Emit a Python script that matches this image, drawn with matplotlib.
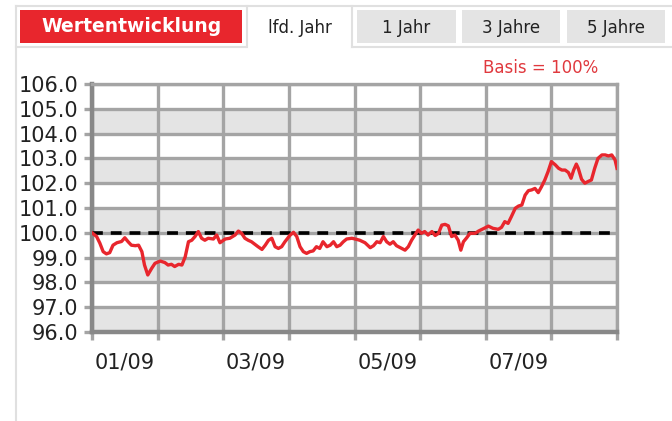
import matplotlib
matplotlib.use("Agg")
import matplotlib.pyplot as plt
from matplotlib.patches import Rectangle
from matplotlib.lines import Line2D

plt.rcParams["font.family"] = ["DejaVu Sans"]

# Wertentwicklung, lfd. Jahr (Basis = 100%)
# x: Position in Monaten ab 01.01. (0 = Jan, 8 = Ende Aug)
months = [
    0.00, 0.07, 0.12, 0.17, 0.22, 0.27, 0.32, 0.38, 0.45, 0.50, 0.55, 0.60,
    0.66, 0.71, 0.76, 0.80, 0.85, 0.91, 0.96, 1.04, 1.11, 1.16, 1.21, 1.26,
    1.32, 1.37, 1.42, 1.47, 1.52, 1.57, 1.62, 1.67, 1.72, 1.77, 1.85, 1.90,
    1.95, 2.03, 2.10, 2.18, 2.23, 2.28, 2.33, 2.38, 2.43, 2.48, 2.53, 2.59,
    2.64, 2.69, 2.74, 2.79, 2.84, 2.89, 2.94, 3.02, 3.07, 3.12, 3.17, 3.22,
    3.27, 3.32, 3.37, 3.42, 3.47, 3.52, 3.58, 3.63, 3.68, 3.73, 3.78, 3.83,
    3.88, 3.96, 4.01, 4.08, 4.16, 4.24, 4.29, 4.34, 4.39, 4.44, 4.49, 4.54,
    4.59, 4.64, 4.72, 4.77, 4.82, 4.87, 4.92, 4.97, 5.02, 5.07, 5.12, 5.18,
    5.23, 5.28, 5.33, 5.38, 5.43, 5.48, 5.53, 5.58, 5.62, 5.66, 5.71, 5.76,
    5.84, 5.89, 5.99, 6.04, 6.11, 6.19, 6.24, 6.29, 6.34, 6.39, 6.45, 6.50,
    6.55, 6.60, 6.65, 6.70, 6.75, 6.80, 6.85, 6.90, 6.95, 7.00, 7.06, 7.11,
    7.16, 7.21, 7.26, 7.30, 7.34, 7.38, 7.41, 7.46, 7.51, 7.56, 7.61, 7.66,
    7.71, 7.77, 7.82, 7.87, 7.92, 7.97, 8.00,
]
werte = [
    100.0, 99.85, 99.58, 99.24, 99.15, 99.2, 99.5, 99.6, 99.65, 99.8, 99.64, 99.5,
    99.48, 99.5, 99.24, 98.7, 98.3, 98.57, 98.77, 98.86, 98.8, 98.7, 98.73, 98.64,
    98.73, 98.7, 99.03, 99.64, 99.7, 99.85, 100.05, 99.78, 99.7, 99.78, 99.75, 99.91,
    99.6, 99.75, 99.78, 99.91, 100.07, 99.98, 99.78, 99.7, 99.64, 99.54, 99.44, 99.33,
    99.5, 99.7, 99.78, 99.44, 99.37, 99.44, 99.64, 99.91, 100.02, 99.85, 99.44, 99.24,
    99.17, 99.24, 99.27, 99.44, 99.37, 99.64, 99.44, 99.5, 99.64, 99.44, 99.5, 99.64,
    99.75, 99.78, 99.75, 99.7, 99.6, 99.4, 99.48, 99.64, 99.6, 99.85, 99.64, 99.54,
    99.64, 99.48, 99.37, 99.3, 99.44, 99.7, 99.91, 100.11, 99.98, 100.05, 99.91, 100.05,
    99.89, 99.98, 100.31, 100.34, 100.28, 99.85, 99.91, 99.7, 99.3, 99.64, 99.8, 99.98,
    99.98, 100.07, 100.2, 100.27, 100.18, 100.14, 100.22, 100.45, 100.38, 100.65, 100.99, 101.08,
    101.12, 101.52, 101.7, 101.73, 101.79, 101.62, 101.86, 102.13, 102.47, 102.87, 102.74, 102.6,
    102.53, 102.53, 102.43, 102.2, 102.53, 102.77, 102.6, 102.16, 102.0, 102.07, 102.13, 102.6,
    103.0, 103.14, 103.14, 103.1, 103.14, 102.94, 102.6,
]

y_ticks = [96, 97, 98, 99, 100, 101, 102, 103, 104, 105, 106]
x_labels = ["01/09", "03/09", "05/09", "07/09"]
x_label_pos = [0.5, 2.5, 4.5, 6.5]
tabs = ["lfd. Jahr", "1 Jahr", "3 Jahre", "5 Jahre"]

RED = "#e8262d"
GRID = "#a4a4a4"
BAND = "#e4e4e4"

W, H = 672, 421
fig = plt.figure(figsize=(W / 100, H / 100), dpi=100)
fig.patch.set_facecolor("white")


def fx(x):
    return x / W


def fy(y):
    return 1 - y / H


def box(x0, y0, x1, y1, fc):
    fig.add_artist(Rectangle((fx(x0), fy(y1)), fx(x1 - x0), (y1 - y0) / H,
                             transform=fig.transFigure, facecolor=fc,
                             edgecolor="none", linewidth=0))


def line(xs, ys, color="#e0e0e0", lw=1.5):
    fig.add_artist(Line2D([fx(v) for v in xs], [fy(v) for v in ys],
                          transform=fig.transFigure, color=color, lw=lw))


# Kopfzeile mit Reitern
line([16, 672], [6, 6])
line([16, 16], [6, 421])
line([16, 246], [47, 47])
line([352, 672], [47, 47])
box(20, 10, 242, 43, RED)
fig.text(fx(132), fy(26), "Wertentwicklung", color="white", fontsize=13.5,
         fontweight="bold", ha="center", va="center")

tab_x = [(247, 352), (357, 456), (462, 560), (567, 665)]
for i, (name, (a, b)) in enumerate(zip(tabs, tab_x)):
    if i == 0:
        line([a, a], [6, 47])
        line([b, b], [6, 47])
    else:
        box(a, 10, b, 43, BAND)
    fig.text(fx((a + b) / 2), fy(28), name, color="#222222", fontsize=12,
             ha="center", va="center")

fig.text(fx(598), fy(68), "Basis = 100%", color="#e0393e", fontsize=12,
         ha="right", va="center")

# Diagramm
ax = fig.add_axes([fx(92), fy(332), fx(617 - 92), (332 - 84) / H])
ax.set_facecolor("white")
ax.set_xlim(0, 8)
ax.set_ylim(96, 106)
# abwechselnd graue und weisse Baender
for i, lo in enumerate(y_ticks[:-1]):
    fc = BAND if i % 2 == 0 else "white"
    ax.fill_between([0, 8], [lo, lo], [lo + 1, lo + 1], facecolor=fc,
                    edgecolor="none", lw=0, zorder=0.5)

ax.set_yticks(y_ticks)
ax.set_yticklabels([f"{v:.1f}" for v in y_ticks])
ax.set_xticks(range(9))
ax.set_xticklabels([])
ax.set_xticks(x_label_pos, minor=True)
ax.set_xticklabels(x_labels, minor=True)

ax.grid(True, which="major", color=GRID, lw=2.4, zorder=1)
ax.set_axisbelow(True)
ax.tick_params(axis="both", which="major", color=GRID, width=2.4, length=6,
               labelsize=15, labelcolor="#222222", pad=4)
ax.tick_params(axis="x", which="minor", length=0, labelsize=15,
               labelcolor="#222222", pad=15)

for side in ["top", "right"]:
    ax.spines[side].set_color(GRID)
    ax.spines[side].set_linewidth(2.4)
for side in ["left", "bottom"]:
    ax.spines[side].set_color("#888888")
    ax.spines[side].set_linewidth(3.2)

ax.axhline(100, color="black", lw=2.6, ls=(0, (3, 2.2)), zorder=3)
ax.plot(months, werte, color=RED, lw=2.4, zorder=4, solid_joinstyle="round")

fig.savefig("out.png", dpi=100)
